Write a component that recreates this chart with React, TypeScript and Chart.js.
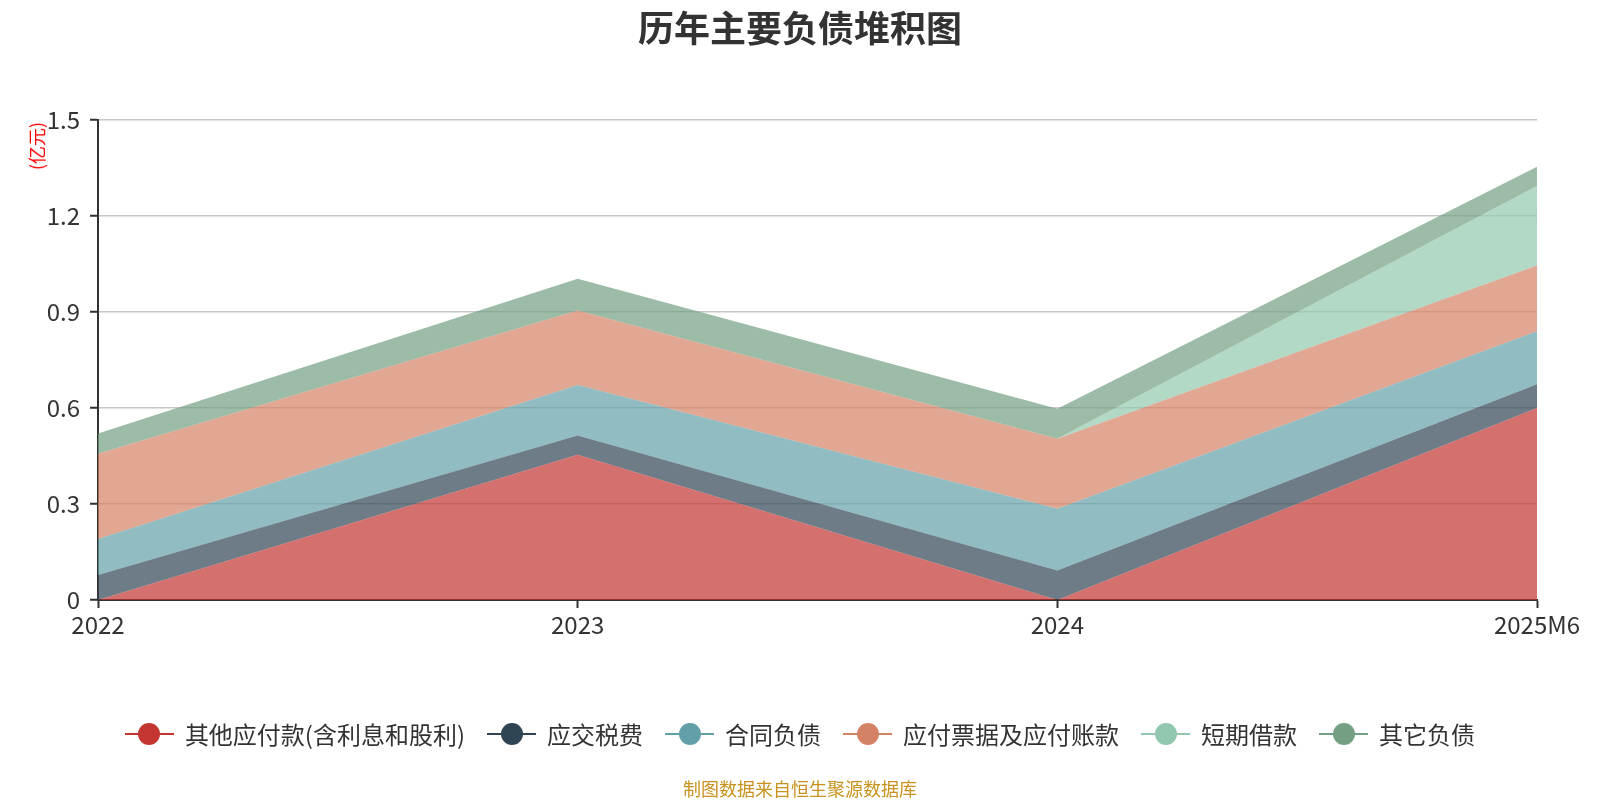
import React, { useEffect, useRef } from "react";
import { Chart, registerables } from "chart.js";

Chart.register(...registerables);

const categories = ["2022", "2023", "2024", "2025M6"];
const seriesNames = [
  "其他应付款(含利息和股利)",
  "应交税费",
  "合同负债",
  "应付票据及应付账款",
  "短期借款",
  "其它负债",
];
const otherPayables = [0, 0.454, 0, 0.6];
const taxesPayable = [0.078, 0.06, 0.092, 0.074];
const contractLiabilities = [0.113, 0.158, 0.193, 0.166];
const notesAccountsPayable = [0.266, 0.233, 0.219, 0.205];
const shortTermLoans = [0, 0, 0, 0.249];
const otherLiabilities = [0.063, 0.099, 0.094, 0.06];
const yTicks = [0, 0.3, 0.6, 0.9, 1.2, 1.5];

const colors = ["#c23531", "#2f4554", "#61a0a8", "#d48265", "#91c7ae", "#749f83"];
const fills = [
  "rgba(194,53,49,0.7)",
  "rgba(47,69,84,0.7)",
  "rgba(97,160,168,0.7)",
  "rgba(212,130,101,0.7)",
  "rgba(145,199,174,0.7)",
  "rgba(116,159,131,0.7)",
];

const FONT = "'Noto Sans CJK SC', 'Noto Sans', sans-serif";

export default function App() {
  const ref = useRef<HTMLCanvasElement | null>(null);

  useEffect(() => {
    if (!ref.current) return;
    const seriesData = [
      otherPayables,
      taxesPayable,
      contractLiabilities,
      notesAccountsPayable,
      shortTermLoans,
      otherLiabilities,
    ];
    const chart = new Chart(ref.current, {
      type: "line",
      data: {
        labels: categories,
        datasets: seriesData.map((d, i) => ({
          label: seriesNames[i],
          data: d,
          borderWidth: 0,
          borderColor: "rgba(0,0,0,0)",
          backgroundColor: fills[i],
          fill: i === 0 ? "origin" : "-1",
          pointRadius: 0,
          pointHoverRadius: 0,
          tension: 0,
        })),
      },
      options: {
        animation: false,
        responsive: false,
        maintainAspectRatio: false,
        events: [],
        layout: { padding: { left: 28, right: 63, top: 120, bottom: 150 } },
        plugins: {
          legend: { display: false },
          title: { display: false },
          tooltip: { enabled: false },
        },
        scales: {
          x: {
            offset: false,
            afterFit: (axis: any) => {
              axis.height = 50;
            },
            grid: {
              drawOnChartArea: false,
              drawTicks: true,
              tickLength: 8,
              tickColor: "#333",
              tickWidth: 2,
            },
            border: { color: "#333", width: 2 },
            ticks: {
              color: "#333",
              font: { family: FONT, size: 24 },
              padding: 2,
              maxRotation: 0,
              autoSkip: false,
            },
          },
          y: {
            stacked: true,
            min: 0,
            max: 1.5,
            afterFit: (axis: any) => {
              axis.width = 70;
            },
            afterBuildTicks: (axis: any) => {
              axis.ticks = yTicks.map((v) => ({ value: v }));
            },
            grid: {
              color: "#c8c8c8",
              lineWidth: 1.5,
              drawTicks: true,
              tickLength: 8,
              tickColor: "#333",
              tickWidth: 2,
            },
            border: { color: "#333", width: 2 },
            ticks: {
              color: "#333",
              font: { family: FONT, size: 24 },
              padding: 10,
              callback: (v: any) => (Number(v) === 0 ? "0" : Number(v).toFixed(1)),
            },
          },
        },
      },
    });
    return () => chart.destroy();
  }, []);

  return (
    <div
      style={{
        position: "fixed",
        left: 0,
        top: 0,
        width: 1600,
        height: 800,
        background: "#fff",
        fontFamily: FONT,
        overflow: "hidden",
      }}
    >
      <canvas ref={ref} width={1600} height={800} style={{ position: "absolute", left: 0, top: 0, width: 1600, height: 800 }} />
      <div
        style={{
          position: "absolute",
          left: 0,
          top: 4,
          width: 1600,
          textAlign: "center",
          fontSize: 36,
          fontWeight: "bold",
          color: "#333",
          lineHeight: "44px",
        }}
      >
        历年主要负债堆积图
      </div>
      <div
        style={{
          position: "absolute",
          left: 36,
          top: 146,
          transform: "translate(-50%, -50%) rotate(-90deg)",
          fontSize: 18,
          color: "#ff0000",
          whiteSpace: "nowrap",
          lineHeight: "18px",
        }}
      >
        (亿元)
      </div>
      <div
        style={{
          position: "absolute",
          left: 0,
          top: 716,
          width: 1600,
          height: 36,
          display: "flex",
          justifyContent: "center",
          alignItems: "center",
        }}
      >
        {seriesNames.map((name, i) => (
          <div
            key={name}
            style={{
              display: "flex",
              alignItems: "center",
              marginLeft: i === 0 ? 0 : 22,
            }}
          >
            <div style={{ position: "relative", width: 49, height: 24 }}>
              <div
                style={{
                  position: "absolute",
                  left: 0,
                  top: 11,
                  width: 49,
                  height: 2,
                  background: colors[i],
                }}
              />
              <div
                style={{
                  position: "absolute",
                  left: 13.5,
                  top: 1,
                  width: 22,
                  height: 22,
                  borderRadius: "50%",
                  background: colors[i],
                }}
              />
            </div>
            <span style={{ marginLeft: 11, fontSize: 24, color: "#333", lineHeight: "36px", whiteSpace: "nowrap" }}>
              {name}
            </span>
          </div>
        ))}
      </div>
      <div
        style={{
          position: "absolute",
          left: 0,
          top: 776,
          width: 1600,
          textAlign: "center",
          fontSize: 18,
          color: "#c8921e",
          lineHeight: "24px",
        }}
      >
        制图数据来自恒生聚源数据库
      </div>
    </div>
  );
}
